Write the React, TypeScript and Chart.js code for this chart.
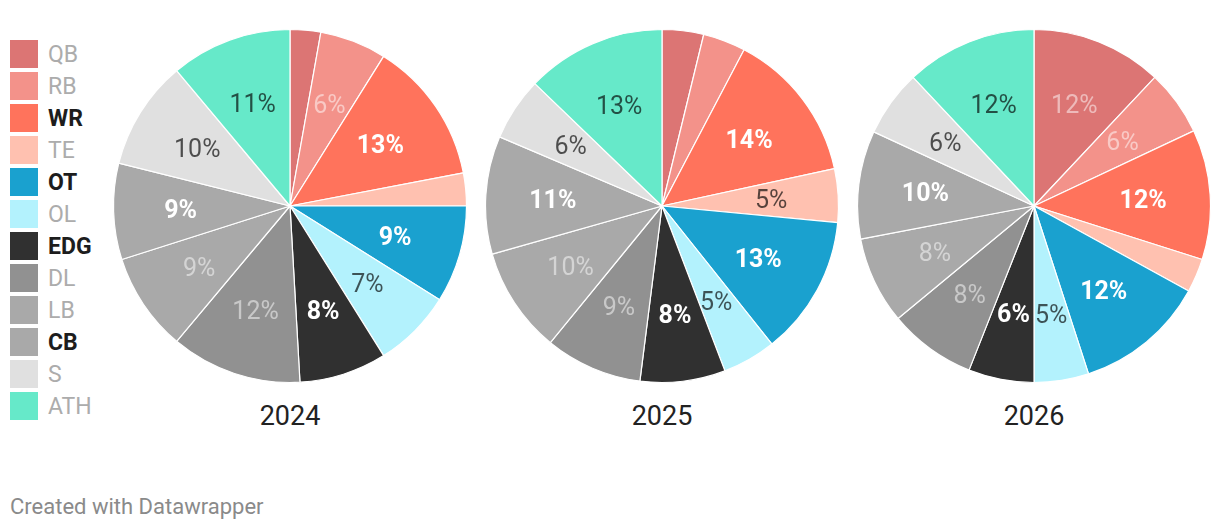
import React, { useEffect, useRef } from "react";
import { Chart, registerables } from "chart.js";

Chart.register(...registerables);

const categories = ["QB", "RB", "WR", "TE", "OT", "OL", "EDG", "DL", "LB", "CB", "S", "ATH"];
const sliceColors = ["#dc7574", "#f3928a", "#ff735c", "#ffc1b0", "#1aa1cf", "#b3f2fd", "#303030", "#919191", "#a9a9a9", "#a9a9a9", "#e0e0e0", "#66e9c9"];
const highlighted = ["WR", "OT", "EDG", "CB"];
const years = ["2024", "2025", "2026"];
const values2024 = [2.8, 6.1, 13.1, 3.0, 8.9, 7.2, 8.0, 12.0, 9.0, 8.8, 10.0, 11.1];
const values2025 = [3.8, 3.9, 13.9, 4.9, 12.8, 4.9, 7.8, 8.9, 9.7, 10.8, 5.8, 12.8];
const values2026 = [12.0, 6.0, 11.9, 3.1, 12.0, 5.0, 6.0, 8.0, 8.0, 9.9, 6.1, 12.0];
const footerText = "Created with Datawrapper";

const seriesByYear = [values2024, values2025, values2026];

const FONT = "Roboto, 'Noto Sans', Arial, sans-serif";

function luminance(hex: string): number {
  const h = hex.replace("#", "");
  const r = parseInt(h.slice(0, 2), 16);
  const g = parseInt(h.slice(2, 4), 16);
  const b = parseInt(h.slice(4, 6), 16);
  return (0.299 * r + 0.587 * g + 0.114 * b) / 255;
}

const labelPlugin = {
  id: "sliceLabels",
  afterDatasetsDraw(chart: any) {
    const ctx = chart.ctx;
    const meta = chart.getDatasetMeta(0);
    const data = chart.data.datasets[0].data as number[];
    const labels = chart.data.labels as string[];
    ctx.save();
    ctx.textAlign = "center";
    ctx.textBaseline = "middle";
    meta.data.forEach((arc: any, i: number) => {
      const v = data[i];
      if (Math.round(v) < 5) return;
      const { x, y, startAngle, endAngle, outerRadius } = arc.getProps(
        ["x", "y", "startAngle", "endAngle", "outerRadius"],
        true
      );
      const mid = (startAngle + endAngle) / 2;
      const r = outerRadius * 0.62;
      const lx = x + Math.cos(mid) * r;
      const ly = y + Math.sin(mid) * r;
      const isHi = highlighted.includes(labels[i]);
      let color: string;
      if (isHi) color = "#ffffff";
      else if (luminance(sliceColors[i]) < 0.72) color = "rgba(255,255,255,0.5)";
      else color = "rgba(0,0,0,0.66)";
      ctx.font = `${isHi ? 700 : 400} 25px ${FONT}`;
      ctx.fillStyle = color;
      ctx.fillText(`${Math.round(v)}%`, lx, ly + 2.5);
    });
    ctx.restore();
  },
};

function PieChart({ values }: { values: number[] }) {
  const ref = useRef<HTMLCanvasElement | null>(null);
  useEffect(() => {
    if (!ref.current) return;
    const chart = new Chart(ref.current, {
      type: "pie",
      data: {
        labels: categories,
        datasets: [
          {
            data: values,
            backgroundColor: sliceColors,
            borderColor: "#ffffff",
            borderWidth: 1.2,
          },
        ],
      },
      options: {
        responsive: false,
        animation: false,
        radius: 176.5,
        layout: { padding: 0 },
        plugins: {
          legend: { display: false },
          tooltip: { enabled: false },
        },
        events: [],
      } as any,
      plugins: [labelPlugin],
    });
    return () => chart.destroy();
  }, [values]);
  return <canvas ref={ref} width={356} height={356} style={{ display: "block", width: 356, height: 356 }} />;
}

const pieCentersX = [290, 662, 1034];
const pieCenterY = 206;

export default function App() {
  return (
    <div
      style={{
        position: "absolute",
        left: 0,
        top: 0,
        width: 1220,
        height: 530,
        background: "#ffffff",
        fontFamily: FONT,
        overflow: "hidden",
      }}
    >
      {categories.map((c, i) => {
        const isHi = highlighted.includes(c);
        return (
          <div
            key={c}
            style={{
              position: "absolute",
              left: 10,
              top: 40 + i * 32,
              height: 28,
              display: "flex",
              alignItems: "center",
            }}
          >
            <div style={{ width: 28, height: 28, background: sliceColors[i] }} />
            <div
              style={{
                marginLeft: 10,
                marginTop: 2,
                fontSize: 23,
                lineHeight: "28px",
                fontWeight: isHi ? 700 : 400,
                color: isHi ? "#1d1d1d" : "#acacac",
              }}
            >
              {c}
            </div>
          </div>
        );
      })}
      {years.map((y, k) => (
        <React.Fragment key={y}>
          <div
            style={{
              position: "absolute",
              left: pieCentersX[k] - 178,
              top: pieCenterY - 178,
              width: 356,
              height: 356,
            }}
          >
            <PieChart values={seriesByYear[k]} />
          </div>
          <div
            style={{
              position: "absolute",
              left: pieCentersX[k] - 100,
              top: 399,
              width: 200,
              textAlign: "center",
              fontSize: 27,
              lineHeight: "34px",
              color: "#222222",
            }}
          >
            {y}
          </div>
        </React.Fragment>
      ))}
      <div
        style={{
          position: "absolute",
          left: 10,
          top: 493,
          fontSize: 22,
          lineHeight: "28px",
          color: "#8a8a8a",
        }}
      >
        {footerText}
      </div>
    </div>
  );
}
